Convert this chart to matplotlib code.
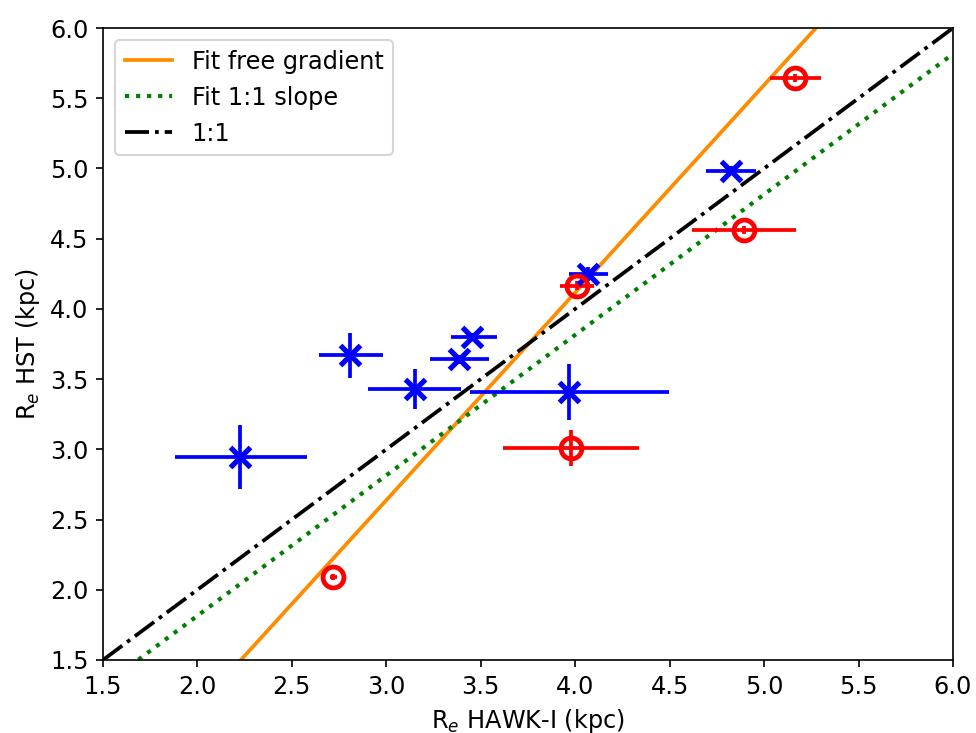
import numpy as np
import matplotlib
matplotlib.use("Agg")
import matplotlib.pyplot as plt

# blue sample (x markers)
bx = [2.225, 2.81, 3.15, 3.385, 3.455, 3.965, 4.07, 4.825]
by = [2.945, 3.67, 3.43, 3.64, 3.80, 3.41, 4.25, 4.985]
bx_lo = [0.345, 0.165, 0.245, 0.155, 0.11, 0.52, 0.105, 0.13]
bx_hi = [0.355, 0.17, 0.245, 0.16, 0.13, 0.53, 0.105, 0.13]
by_err = [0.23, 0.16, 0.145, 0.03, 0.03, 0.20, 0.05, 0.03]

# red sample (open circles)
rx = [2.72, 4.01, 3.98, 4.895, 5.165]
ry = [2.09, 4.165, 3.01, 4.56, 5.645]
rx_err = [0.02, 0.09, 0.36, 0.275, 0.135]
ry_err = [0.02, 0.03, 0.13, 0.03, 0.03]

# fits
slope_free, icpt_free = 1.478, -1.796
offset_11 = -0.185

plt.rcParams['font.size'] = 11.5

fig = plt.figure(figsize=(976/150, 733/150), dpi=150)
ax = fig.add_axes([0.1055, 0.0996, 0.8709, 0.8622])

xx = np.array([1.5, 6.0])
ax.plot(xx, slope_free*xx + icpt_free, color='darkorange', lw=1.8, label='Fit free gradient')
ax.plot(xx, xx + offset_11, color='green', ls=':', lw=2, label='Fit 1:1 slope')
ax.plot(xx, xx, color='black', ls='-.', lw=1.8, label='1:1')

ax.errorbar(bx, by, xerr=[bx_lo, bx_hi], yerr=by_err, fmt='x', color='blue',
            ms=10, mew=2.5, elinewidth=1.8, capsize=0)
ax.errorbar(rx, ry, xerr=rx_err, yerr=ry_err, fmt='o', color='red', mfc='none',
            ms=10, mew=2.3, elinewidth=1.8, capsize=0)

ax.set_xlim(1.5, 6.0)
ax.set_ylim(1.5, 6.0)
ax.set_xticks(np.arange(1.5, 6.01, 0.5))
ax.set_yticks(np.arange(1.5, 6.01, 0.5))
ax.set_xlabel(r'R$_e$ HAWK-I (kpc)')
ax.set_ylabel(r'R$_e$ HST (kpc)')
ax.legend(loc='upper left')

fig.savefig('out.png', dpi=150)
